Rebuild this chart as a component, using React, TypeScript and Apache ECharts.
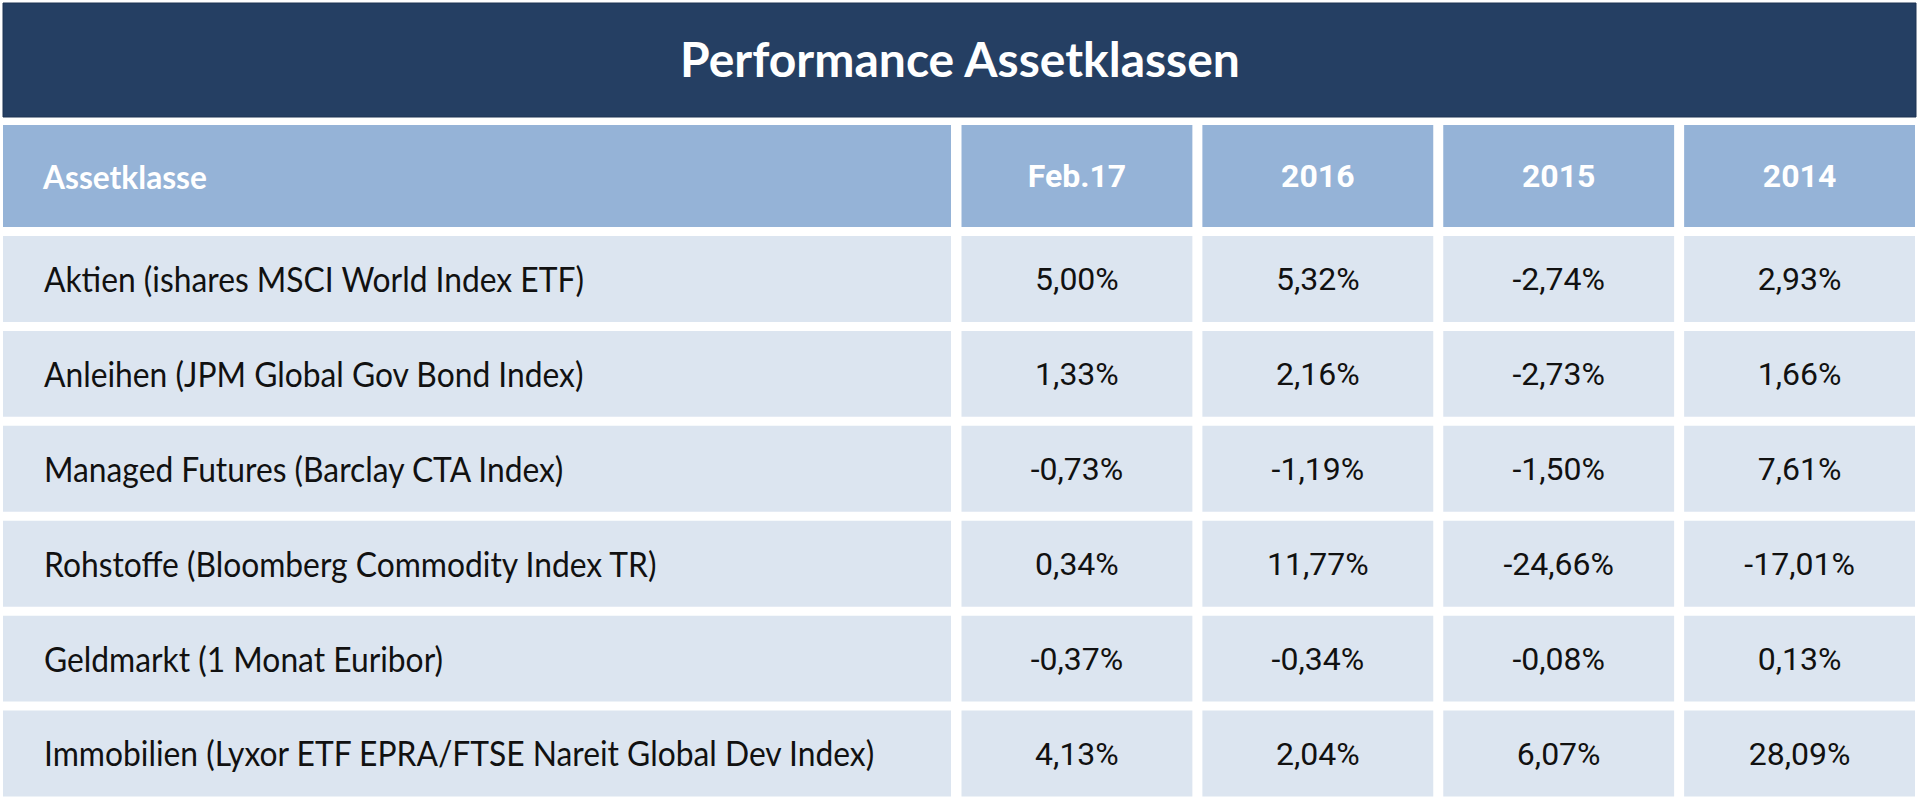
import React, { useEffect, useRef } from "react";
import * as echarts from "echarts";

const titleText = "Performance Assetklassen";
const labelHeader = "Assetklasse";
const periods = ["Feb.17", "2016", "2015", "2014"];
const assetClasses = [
  "Aktien (ishares MSCI World Index ETF)",
  "Anleihen (JPM Global Gov Bond Index)",
  "Managed Futures (Barclay CTA Index)",
  "Rohstoffe (Bloomberg Commodity Index TR)",
  "Geldmarkt (1 Monat Euribor)",
  "Immobilien (Lyxor ETF EPRA/FTSE Nareit Global Dev Index)",
];
const feb17 = [5.0, 1.33, -0.73, 0.34, -0.37, 4.13];
const y2016 = [5.32, 2.16, -1.19, 11.77, -0.34, 2.04];
const y2015 = [-2.74, -2.73, -1.5, -24.66, -0.08, 6.07];
const y2014 = [2.93, 1.66, 7.61, -17.01, 0.13, 28.09];

const columns = [feb17, y2016, y2015, y2014];

const NAVY = "#253F63";
const HEADER = "#95B3D7";
const CELL = "#DCE5F0";
const LABEL_FONT = "Lato";
const NUM_FONT = "Roboto";

const fmt = (v: number) => v.toFixed(2).replace(".", ",") + "%";

export default function App() {
  const ref = useRef<HTMLDivElement>(null);

  useEffect(() => {
    document.body.style.margin = "0";
    document.body.style.background = "#ffffff";
    const chart = echarts.init(ref.current!, null, { renderer: "svg" });

    const valueData: any[] = [];
    columns.forEach((col, ci) => {
      col.forEach((v, ri) => valueData.push([ci, ri, v]));
    });
    const labelData = assetClasses.map((_, ri) => [0, ri]);

    const hiddenCat = (data: string[], gridIndex: number, inverse = false) => ({
      type: "category",
      data,
      gridIndex,
      show: false,
      inverse,
    });

    const option: any = {
      animation: false,
      backgroundColor: "#ffffff",
      title: {
        text: titleText,
        left: "center",
        top: 34,
        padding: 0,
        textStyle: {
          color: "#ffffff",
          fontFamily: LABEL_FONT,
          fontWeight: "bold",
          fontSize: 48,
          lineHeight: 48,
        },
      },
      graphic: [
        {
          type: "rect",
          z: -1,
          shape: { x: 3, y: 3, width: 1913, height: 114 },
          style: { fill: NAVY, stroke: "#1E3455", lineWidth: 1 },
          silent: true,
        },
      ],
      grid: [
        { left: 3, top: 125, width: 948, height: 102 },
        { left: 956.5, top: 125, width: 964, height: 102 },
        { left: 3, top: 231.5, width: 948, height: 570 },
        { left: 956.5, top: 231.5, width: 964, height: 570 },
      ],
      xAxis: [
        hiddenCat([labelHeader], 0),
        hiddenCat(periods, 1),
        hiddenCat([labelHeader], 2),
        hiddenCat(periods, 3),
      ],
      yAxis: [
        hiddenCat(["header"], 0),
        hiddenCat(["header"], 1),
        hiddenCat(assetClasses, 2, true),
        hiddenCat(assetClasses, 3, true),
      ],
      series: [
        {
          type: "custom",
          name: "labelHeader",
          xAxisIndex: 0,
          yAxisIndex: 0,
          data: [[0, 0]],
          renderItem: (params: any, api: any) => {
            const c = api.coord([api.value(0), api.value(1)]);
            const s = api.size([1, 1]);
            return {
              type: "group",
              children: [
                {
                  type: "rect",
                  shape: { x: c[0] - s[0] / 2, y: c[1] - s[1] / 2, width: s[0], height: s[1] },
                  style: { fill: HEADER },
                },
                {
                  type: "text",
                  x: c[0] - s[0] / 2 + 40,
                  y: c[1],
                  scaleX: 0.96,
                  style: {
                    text: labelHeader,
                    fill: "#ffffff",
                    fontFamily: LABEL_FONT,
                    fontWeight: "bold",
                    fontSize: 33,
                    align: "left",
                    verticalAlign: "middle",
                  },
                },
              ],
            };
          },
        },
        {
          type: "custom",
          name: "periodHeader",
          xAxisIndex: 1,
          yAxisIndex: 1,
          data: periods.map((_, i) => [i, 0]),
          renderItem: (params: any, api: any) => {
            const c = api.coord([api.value(0), api.value(1)]);
            const s = api.size([1, 1]);
            return {
              type: "group",
              children: [
                {
                  type: "rect",
                  shape: { x: c[0] - s[0] / 2 + 5, y: c[1] - s[1] / 2, width: s[0] - 10, height: s[1] },
                  style: { fill: HEADER },
                },
                {
                  type: "text",
                  x: c[0],
                  y: c[1],
                  style: {
                    text: periods[params.dataIndex],
                    fill: "#ffffff",
                    fontFamily: NUM_FONT,
                    fontWeight: "bold",
                    fontSize: 32,
                    align: "center",
                    verticalAlign: "middle",
                  },
                },
              ],
            };
          },
        },
        {
          type: "custom",
          name: "assetClasses",
          xAxisIndex: 2,
          yAxisIndex: 2,
          data: labelData,
          renderItem: (params: any, api: any) => {
            const c = api.coord([api.value(0), api.value(1)]);
            const s = api.size([1, 1]);
            return {
              type: "group",
              children: [
                {
                  type: "rect",
                  shape: { x: c[0] - s[0] / 2, y: c[1] - s[1] / 2 + 4.5, width: s[0], height: s[1] - 9 },
                  style: { fill: CELL },
                },
                {
                  type: "text",
                  x: c[0] - s[0] / 2 + 41,
                  y: c[1],
                  scaleX: 0.935,
                  style: {
                    text: assetClasses[params.dataIndex],
                    fill: "#111111",
                    fontFamily: LABEL_FONT,
                    fontSize: 34,
                    align: "left",
                    verticalAlign: "middle",
                  },
                },
              ],
            };
          },
        },
        {
          type: "custom",
          name: "performance",
          xAxisIndex: 3,
          yAxisIndex: 3,
          data: valueData,
          renderItem: (params: any, api: any) => {
            const c = api.coord([api.value(0), api.value(1)]);
            const s = api.size([1, 1]);
            return {
              type: "group",
              children: [
                {
                  type: "rect",
                  shape: { x: c[0] - s[0] / 2 + 5, y: c[1] - s[1] / 2 + 4.5, width: s[0] - 10, height: s[1] - 9 },
                  style: { fill: CELL },
                },
                {
                  type: "text",
                  x: c[0],
                  y: c[1],
                  style: {
                    text: fmt(api.value(2)),
                    fill: "#111111",
                    fontFamily: NUM_FONT,
                    fontSize: 32,
                    align: "center",
                    verticalAlign: "middle",
                  },
                },
              ],
            };
          },
        },
      ],
    };

    chart.setOption(option);
    return () => chart.dispose();
  }, []);

  return (
    <div
      ref={ref}
      style={{ position: "fixed", left: 0, top: 0, width: 1920, height: 801 }}
    />
  );
}
